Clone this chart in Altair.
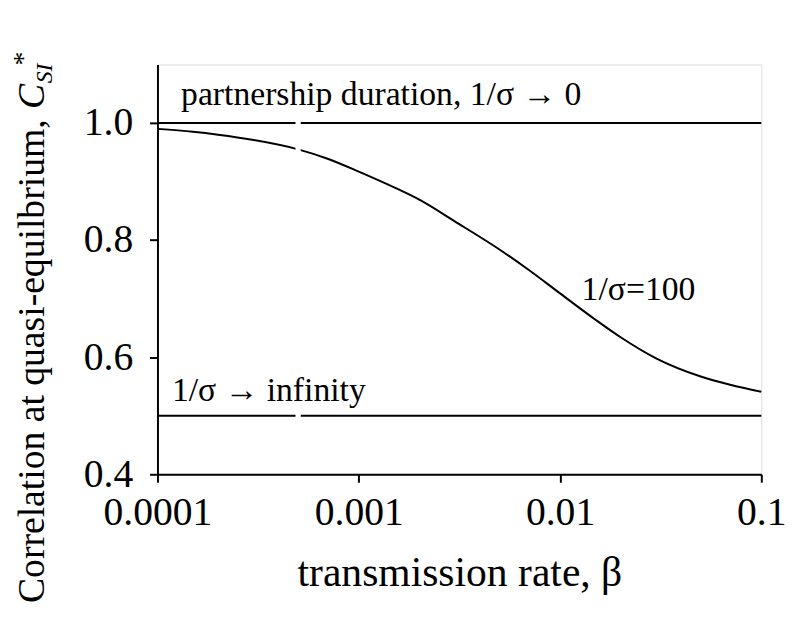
import altair as alt
import pandas as pd

# ---- data ----
beta = [0.0001, 0.00015, 0.0002, 0.0003, 0.0005, 0.0007, 0.001, 0.0015, 0.002,
        0.003, 0.005, 0.007, 0.01, 0.015, 0.02, 0.03, 0.05, 0.07, 0.1]
c_si_100 = [0.990, 0.985, 0.980, 0.971, 0.955, 0.939, 0.917, 0.890, 0.869,
            0.832, 0.784, 0.749, 0.709, 0.664, 0.634, 0.598, 0.567, 0.553, 0.541]
beta_range = [0.0001, 0.1]
c_si_short = [1.0, 1.0]      # 1/sigma -> 0
c_si_long = [0.5, 0.5]       # 1/sigma -> infinity
x_ticks = [0.0001, 0.001, 0.01, 0.1]
y_ticks = [0.4, 0.6, 0.8, 1.0]
break_x = [0.000485, 0.000515]
break_y = [0.485, 1.006]

ann_text = ["partnership duration, 1/σ → 0", "1/σ → infinity", "1/σ=100"]
ann_x = [0.000131, 0.000118, 0.0128]
ann_y = [1.03, 0.526, 0.697]

FONT = "Liberation Serif"

curve = pd.DataFrame({"beta": beta, "c": c_si_100, "s": "100"})
flat = pd.DataFrame({
    "beta": beta_range + beta_range,
    "c": c_si_short + c_si_long,
    "s": ["0", "0", "inf", "inf"],
})
lines_df = pd.concat([curve, flat], ignore_index=True)

xscale = alt.Scale(type="log", domain=beta_range)
yscale = alt.Scale(domain=[0.4, 1.1], nice=False, zero=False)

xaxis = alt.Axis(values=x_ticks, format="~g", title="transmission rate, β",
                 labelFont=FONT, labelFontSize=40, labelColor="black",
                 labelPadding=11, tickSize=8, tickWidth=2, tickColor="black",
                 domainWidth=2, domainColor="black", grid=False,
                 titleFont=FONT, titleFontSize=42, titleFontWeight="normal",
                 titleColor="black", titlePadding=20, labelFlush=False)
yaxis = alt.Axis(values=y_ticks, format=".1f", title=None,
                 labelFont=FONT, labelFontSize=40, labelColor="black",
                 labelPadding=17, tickSize=8, tickWidth=2, tickColor="black",
                 domainWidth=2, domainColor="black", grid=False)

lines = alt.Chart(lines_df).mark_line(color="black", strokeWidth=2,
                                      interpolate="monotone").encode(
    x=alt.X("beta:Q", scale=xscale, axis=xaxis),
    y=alt.Y("c:Q", scale=yscale, axis=yaxis),
    detail="s:N",
)

gap = alt.Chart(pd.DataFrame({"x": [break_x[0]], "x2": [break_x[1]],
                              "y": [break_y[0]], "y2": [break_y[1]]})).mark_rect(
    color="white").encode(
    x=alt.X("x:Q", scale=xscale), x2="x2:Q",
    y=alt.Y("y:Q", scale=yscale), y2="y2:Q",
)

ann = alt.Chart(pd.DataFrame({"t": ann_text, "x": ann_x, "y": ann_y})).mark_text(
    font=FONT, fontSize=34, align="left", baseline="alphabetic", color="black"
).encode(
    x=alt.X("x:Q", scale=xscale), y=alt.Y("y:Q", scale=yscale), text="t:N"
)

one = pd.DataFrame({"a": [0]})
ytitle_main = alt.Chart(one).mark_text(
    text="Correlation at quasi-equilbrium, ", font=FONT, fontSize=38, angle=270,
    align="left", baseline="alphabetic", color="black"
).encode(x=alt.value(-115), y=alt.value(544))
ytitle_c = alt.Chart(one).mark_text(
    text="C", font=FONT, fontSize=38, fontStyle="italic", angle=270,
    align="left", baseline="alphabetic", color="black"
).encode(x=alt.value(-115), y=alt.value(45))
ytitle_sub = alt.Chart(one).mark_text(
    text="SI", font=FONT, fontSize=24, fontStyle="italic", angle=270,
    align="left", baseline="alphabetic", color="black"
).encode(x=alt.value(-107), y=alt.value(19))
ytitle_star = alt.Chart(one).mark_text(
    text="*", font=FONT, fontSize=28, angle=270,
    align="left", baseline="alphabetic", color="black"
).encode(x=alt.value(-127), y=alt.value(1))

chart = alt.layer(lines, gap, ann, ytitle_main, ytitle_c, ytitle_sub, ytitle_star).properties(
    width=610, height=414,
    autosize=alt.AutoSizeParams(type="none"),
    padding={"left": 151, "top": 54, "right": 31, "bottom": 130},
).configure_view(stroke=None).configure(background="white")

chart.save("out.html", embed_options={"renderer": "svg", "actions": False})
